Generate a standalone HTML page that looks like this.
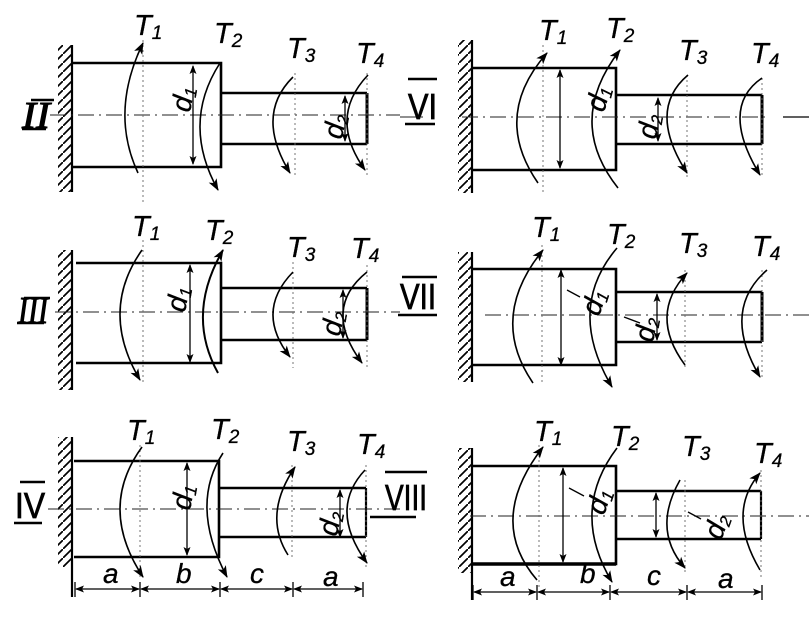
<!DOCTYPE html>
<html><head><meta charset="utf-8"><style>
html,body{margin:0;padding:0;background:#fff;}
svg{display:block;}
text{font-family:"Liberation Sans",sans-serif;fill:#000;}
.t{font-size:29px;font-style:italic;stroke:#000;stroke-width:0.3;}
.rs{font-family:"Liberation Serif",serif;font-style:italic;font-size:38px;stroke:#000;stroke-width:1;}
.rn{font-family:"Liberation Sans",sans-serif;font-size:36px;stroke:#000;stroke-width:0.8;}
.dl{font-size:28px;font-style:italic;stroke:#000;stroke-width:0.3;}
.k{stroke:#000;stroke-width:2.6;fill:none;}
.w{stroke:#000;stroke-width:2.2;fill:none;}
.ax{stroke:#222;stroke-width:1;stroke-dasharray:16 5 2 5;fill:none;}
.dt{stroke:#666;stroke-width:0.9;stroke-dasharray:2 3;fill:none;}
.arc{stroke:#000;stroke-width:1.6;fill:none;marker-end:url(#ah);}
.dim{stroke:#000;stroke-width:1.3;fill:none;marker-start:url(#da);marker-end:url(#da);}
.ln{stroke:#000;stroke-width:1.3;fill:none;}
.bar{stroke:#000;stroke-width:2.6;fill:none;}
</style></head><body>
<svg width="809" height="618" viewBox="0 0 809 618" xmlns="http://www.w3.org/2000/svg">
<defs>
<marker id="ah" markerWidth="14" markerHeight="10" refX="11" refY="5" orient="auto" markerUnits="userSpaceOnUse"><path d="M0,0.5 L12,5 L0,9.5 L3,5 Z" fill="#000"/></marker>
<marker id="da" markerWidth="10" markerHeight="8" refX="8" refY="4" orient="auto-start-reverse" markerUnits="userSpaceOnUse"><path d="M0,0.5 L9,4 L0,7.5 L2,4 Z" fill="#000"/></marker>
<pattern id="h" width="9" height="9" patternUnits="userSpaceOnUse"><path d="M-2,11 L11,-2" stroke="#000" stroke-width="1.7"/></pattern>
</defs>

<!-- ============ PANEL II ============ -->
<rect x="58" y="45" width="14" height="147" fill="url(#h)"/>
<line x1="72" y1="45" x2="72" y2="192" class="w"/>
<path d="M72,63 H221 V167 H72" class="k"/>
<path d="M221,93 H367 M221,144 H367" class="k"/>
<line x1="367" y1="93" x2="367" y2="144" class="k" style="stroke-width:3"/>
<line x1="50" y1="115" x2="400" y2="115" class="ax"/>
<line x1="143" y1="40" x2="143" y2="205" class="dt"/>
<line x1="295" y1="73" x2="295" y2="178" class="dt"/>
<line x1="367" y1="73" x2="367" y2="175" class="dt"/>
<line x1="193" y1="66" x2="193" y2="164" class="dim"/>
<line x1="345" y1="96" x2="345" y2="141" class="dim"/>
<path d="M138,173 Q109.5,112 143,43" class="arc"/>
<path d="M220,63 Q181,123.5 218,190" class="arc"/>
<path d="M293,77 Q254.5,115 290,173" class="arc"/>
<path d="M368,75 Q327.5,117.5 365,170" class="arc"/>
<text class="t" x="134" y="35">T<tspan font-size="19" dy="4">1</tspan></text>
<text class="t" x="214" y="43">T<tspan font-size="19" dy="4">2</tspan></text>
<text class="t" x="287" y="58">T<tspan font-size="19" dy="4">3</tspan></text>
<text class="t" x="356" y="63">T<tspan font-size="19" dy="4">4</tspan></text>
<text class="dl" transform="translate(190,113) rotate(-80)">d<tspan font-size="17" dy="3">1</tspan></text>
<text class="dl" font-size="25" transform="translate(342,140) rotate(-80)">d<tspan font-size="16" dy="3">2</tspan></text>
<text class="rs" x="22" y="128" textLength="28" lengthAdjust="spacingAndGlyphs">II</text>
<line x1="31" y1="100" x2="54" y2="100" class="bar"/>
<line x1="22" y1="129" x2="46" y2="129" class="bar"/>

<!-- ============ PANEL VI ============ -->
<rect x="458" y="40" width="14" height="153" fill="url(#h)"/>
<line x1="472" y1="40" x2="472" y2="193" class="w"/>
<path d="M472,68 H616 V170 H472" class="k"/>
<path d="M616,95 H762 M616,144 H762" class="k"/>
<line x1="762" y1="95" x2="762" y2="144" class="k" style="stroke-width:3"/>
<line x1="400" y1="117" x2="426" y2="117" class="ax"/>
<line x1="462" y1="117" x2="770" y2="117" class="ax"/>
<line x1="783" y1="117" x2="809" y2="117" class="ln"/>
<line x1="543" y1="45" x2="543" y2="192" class="dt"/>
<line x1="687" y1="75" x2="687" y2="178" class="dt"/>
<line x1="762" y1="78" x2="762" y2="178" class="dt"/>
<line x1="560" y1="70" x2="560" y2="168" class="dim"/>
<line x1="658" y1="98" x2="658" y2="141" class="dim"/>
<path d="M538,183 Q491.5,116 547,53" class="arc"/>
<path d="M618,188 Q565,121 620,50" class="arc"/>
<path d="M688,75 Q646.5,110 687,173" class="arc"/>
<path d="M762,78 Q719,107.5 760,175" class="arc"/>
<text class="t" x="539" y="40">T<tspan font-size="19" dy="4">1</tspan></text>
<text class="t" x="606" y="38">T<tspan font-size="19" dy="4">2</tspan></text>
<text class="t" x="679" y="60">T<tspan font-size="19" dy="4">3</tspan></text>
<text class="t" x="751" y="63">T<tspan font-size="19" dy="4">4</tspan></text>
<text class="dl" transform="translate(604,113) rotate(-75)">d<tspan font-size="17" dy="3">1</tspan></text>
<text class="dl" font-size="25" transform="translate(656,140) rotate(-80)">d<tspan font-size="16" dy="3">2</tspan></text>
<text class="rn" x="408" y="119" textLength="29" lengthAdjust="spacingAndGlyphs">VI</text>
<line x1="408" y1="79" x2="437" y2="79" class="bar"/>
<line x1="405" y1="124" x2="435" y2="124" class="bar"/>

<!-- ============ PANEL III ============ -->
<rect x="58" y="250" width="14" height="140" fill="url(#h)"/>
<line x1="72" y1="250" x2="72" y2="390" class="w"/>
<path d="M76,263 H221 V363 H76" class="k"/>
<path d="M221,288 H367 M221,340 H367" class="k"/>
<line x1="367" y1="288" x2="367" y2="340" class="k" style="stroke-width:3"/>
<line x1="55" y1="312" x2="400" y2="312" class="ax"/>
<line x1="143" y1="240" x2="143" y2="385" class="dt"/>
<line x1="293" y1="262" x2="293" y2="368" class="dt"/>
<line x1="367" y1="265" x2="367" y2="370" class="dt"/>
<line x1="190" y1="265" x2="190" y2="362" class="dim"/>
<line x1="343" y1="290" x2="343" y2="338" class="dim"/>
<path d="M142,250 Q99,311 140,380" class="arc"/>
<path d="M218,373 Q185.5,314.5 223,250" class="arc" style="stroke-width:2"/>
<path d="M293,272 Q254.5,311.5 290,357" class="arc"/>
<path d="M367,272 Q321.5,308.5 362,363" class="arc"/>
<text class="t" x="132" y="236">T<tspan font-size="19" dy="4">1</tspan></text>
<text class="t" x="205" y="240">T<tspan font-size="19" dy="4">2</tspan></text>
<text class="t" x="287" y="257">T<tspan font-size="19" dy="4">3</tspan></text>
<text class="t" x="351" y="258">T<tspan font-size="19" dy="4">4</tspan></text>
<text class="dl" transform="translate(185,313) rotate(-80)">d<tspan font-size="17" dy="3">1</tspan></text>
<text class="dl" font-size="25" transform="translate(340,337) rotate(-80)">d<tspan font-size="16" dy="3">2</tspan></text>
<text class="rs" x="18" y="323" textLength="30" lengthAdjust="spacingAndGlyphs">III</text>
<line x1="24" y1="298" x2="50" y2="298" class="bar"/>
<line x1="17" y1="323" x2="44" y2="323" class="bar"/>

<!-- ============ PANEL VII ============ -->
<rect x="458" y="252" width="14" height="130" fill="url(#h)"/>
<line x1="472" y1="252" x2="472" y2="382" class="w"/>
<path d="M472,269 H616 V365 H472" class="k"/>
<path d="M616,292 H762 M616,342 H762" class="k"/>
<line x1="762" y1="292" x2="762" y2="342" class="k" style="stroke-width:3"/>
<line x1="485" y1="315" x2="809" y2="315" class="ax"/>
<line x1="542" y1="245" x2="542" y2="385" class="dt"/>
<line x1="685" y1="270" x2="685" y2="370" class="dt"/>
<line x1="762" y1="270" x2="762" y2="380" class="dt"/>
<line x1="561" y1="270" x2="561" y2="365" class="dim"/>
<line x1="657" y1="294" x2="657" y2="340" class="dim"/>
<path d="M533,383 Q488,317.5 543,250" class="arc"/>
<path d="M617,248 Q565.5,308.5 612,387" class="arc"/>
<path d="M685,365 Q648,315 687,273" class="arc"/>
<path d="M767,270 Q720.5,310.5 760,377" class="arc"/>
<line x1="567" y1="290" x2="580" y2="297" class="ln"/>
<line x1="624" y1="317" x2="640" y2="323" class="ln"/>
<text class="t" x="532" y="237">T<tspan font-size="19" dy="4">1</tspan></text>
<text class="t" x="607" y="244">T<tspan font-size="19" dy="4">2</tspan></text>
<text class="t" x="679" y="253">T<tspan font-size="19" dy="4">3</tspan></text>
<text class="t" x="752" y="256">T<tspan font-size="19" dy="4">4</tspan></text>
<text class="dl" transform="translate(599,317) rotate(-72)">d<tspan font-size="17" dy="3">1</tspan></text>
<text class="dl" font-size="25" transform="translate(653,343) rotate(-80)">d<tspan font-size="16" dy="3">2</tspan></text>
<text class="rn" x="400" y="309" textLength="36" lengthAdjust="spacingAndGlyphs">VII</text>
<line x1="402" y1="277" x2="437" y2="277" class="bar"/>
<line x1="398" y1="315" x2="437" y2="315" class="bar"/>

<!-- ============ PANEL IV ============ -->
<rect x="58" y="437" width="14" height="130" fill="url(#h)"/>
<line x1="72" y1="437" x2="72" y2="597" class="w"/>
<path d="M74,461 H219 V557 H74" class="k"/>
<path d="M219,488 H366 M219,537 H366" class="k"/>
<line x1="366" y1="488" x2="366" y2="537" class="k" style="stroke-width:2.2"/>
<line x1="48" y1="509" x2="400" y2="509" class="ax"/>
<line x1="140" y1="445" x2="140" y2="580" class="dt"/>
<line x1="292" y1="465" x2="292" y2="560" class="dt"/>
<line x1="366" y1="465" x2="366" y2="570" class="dt"/>
<line x1="187" y1="463" x2="187" y2="555" class="dim"/>
<line x1="340" y1="490" x2="340" y2="537" class="dim"/>
<path d="M142,447 Q97.5,508 143,577" class="arc"/>
<path d="M223,453 Q189,505 227,577" class="arc"/>
<path d="M288,555 Q262.5,515 295,467" class="arc"/>
<path d="M365,470 Q328,509.5 367,563" class="arc"/>
<text class="t" x="127" y="440">T<tspan font-size="19" dy="4">1</tspan></text>
<text class="t" x="211" y="439">T<tspan font-size="19" dy="4">2</tspan></text>
<text class="t" x="287" y="451">T<tspan font-size="19" dy="4">3</tspan></text>
<text class="t" x="357" y="454">T<tspan font-size="19" dy="4">4</tspan></text>
<text class="dl" transform="translate(190,511) rotate(-80)">d<tspan font-size="17" dy="3">1</tspan></text>
<text class="dl" font-size="25" transform="translate(337,537) rotate(-80)">d<tspan font-size="16" dy="3">2</tspan></text>
<text class="rn" x="15" y="518" textLength="30" lengthAdjust="spacingAndGlyphs">IV</text>
<line x1="20" y1="482" x2="45" y2="482" class="bar"/>
<line x1="14" y1="523" x2="42" y2="523" class="bar"/>
<!-- dimension IV -->
<line x1="75" y1="582" x2="75" y2="597" class="ln"/>
<line x1="140" y1="582" x2="140" y2="597" class="ln"/>
<line x1="220" y1="582" x2="220" y2="597" class="ln"/>
<line x1="293" y1="582" x2="293" y2="597" class="ln"/>
<line x1="363" y1="582" x2="363" y2="597" class="ln"/>
<line x1="76" y1="589" x2="139" y2="589" class="dim"/>
<line x1="141" y1="589" x2="219" y2="589" class="dim"/>
<line x1="221" y1="589" x2="292" y2="589" class="dim"/>
<line x1="294" y1="589" x2="362" y2="589" class="dim"/>
<text class="dl" font-size="29" x="103" y="583">a</text>
<text class="dl" font-size="29" x="176" y="583">b</text>
<text class="dl" font-size="29" x="250" y="583">c</text>
<text class="dl" font-size="29" x="323" y="586">a</text>

<!-- ============ PANEL VIII ============ -->
<rect x="458" y="448" width="14" height="125" fill="url(#h)"/>
<line x1="472" y1="448" x2="472" y2="600" class="w"/>
<path d="M472,466 H616 V564 H472" class="k"/>
<line x1="472" y1="564" x2="616" y2="564" class="k" style="stroke-width:3.4"/>
<path d="M616,491 H761 M616,539 H761" class="k"/>
<line x1="761" y1="491" x2="761" y2="539" class="k" style="stroke-width:2.2"/>
<line x1="470" y1="516" x2="809" y2="516" class="ax"/>
<line x1="539" y1="445" x2="539" y2="590" class="dt"/>
<line x1="685" y1="480" x2="685" y2="575" class="dt"/>
<line x1="761" y1="470" x2="761" y2="580" class="dt"/>
<line x1="563" y1="468" x2="563" y2="562" class="dim"/>
<line x1="656" y1="493" x2="656" y2="537" class="dim"/>
<path d="M537,580 Q486,520.5 543,447" class="arc"/>
<path d="M617,448 Q569.5,511 612,582" class="arc"/>
<path d="M680,480 Q651.5,530 685,568" class="arc"/>
<path d="M760,570 Q726,512.5 760,473" class="arc"/>
<line x1="569" y1="488" x2="584" y2="496" class="ln"/>
<line x1="688" y1="512" x2="701" y2="519" class="ln"/>
<text class="t" x="534" y="441">T<tspan font-size="19" dy="4">1</tspan></text>
<text class="t" x="611" y="446">T<tspan font-size="19" dy="4">2</tspan></text>
<text class="t" x="682" y="456">T<tspan font-size="19" dy="4">3</tspan></text>
<text class="t" x="754" y="463">T<tspan font-size="19" dy="4">4</tspan></text>
<text class="dl" transform="translate(604,516) rotate(-72)">d<tspan font-size="17" dy="3">1</tspan></text>
<text class="dl" font-size="25" transform="translate(721,541) rotate(-70)">d<tspan font-size="16" dy="3">2</tspan></text>
<text class="rn" x="385" y="510" textLength="42" lengthAdjust="spacingAndGlyphs">VIII</text>
<line x1="385" y1="472" x2="427" y2="472" class="bar"/>
<line x1="370" y1="517" x2="416" y2="517" class="bar"/>
<!-- dimension VIII -->
<line x1="473" y1="585" x2="473" y2="600" class="ln"/>
<line x1="537" y1="585" x2="537" y2="600" class="ln"/>
<line x1="610" y1="585" x2="610" y2="600" class="ln"/>
<line x1="687" y1="585" x2="687" y2="600" class="ln"/>
<line x1="762" y1="585" x2="762" y2="600" class="ln"/>
<line x1="474" y1="592" x2="536" y2="592" class="dim"/>
<line x1="538" y1="592" x2="609" y2="592" class="dim"/>
<line x1="611" y1="592" x2="686" y2="592" class="dim"/>
<line x1="688" y1="592" x2="761" y2="592" class="dim"/>
<text class="dl" font-size="29" x="500" y="586">a</text>
<text class="dl" font-size="29" x="580" y="583">b</text>
<text class="dl" font-size="29" x="647" y="585">c</text>
<text class="dl" font-size="29" x="718" y="588">a</text>
</svg>
</body></html>
